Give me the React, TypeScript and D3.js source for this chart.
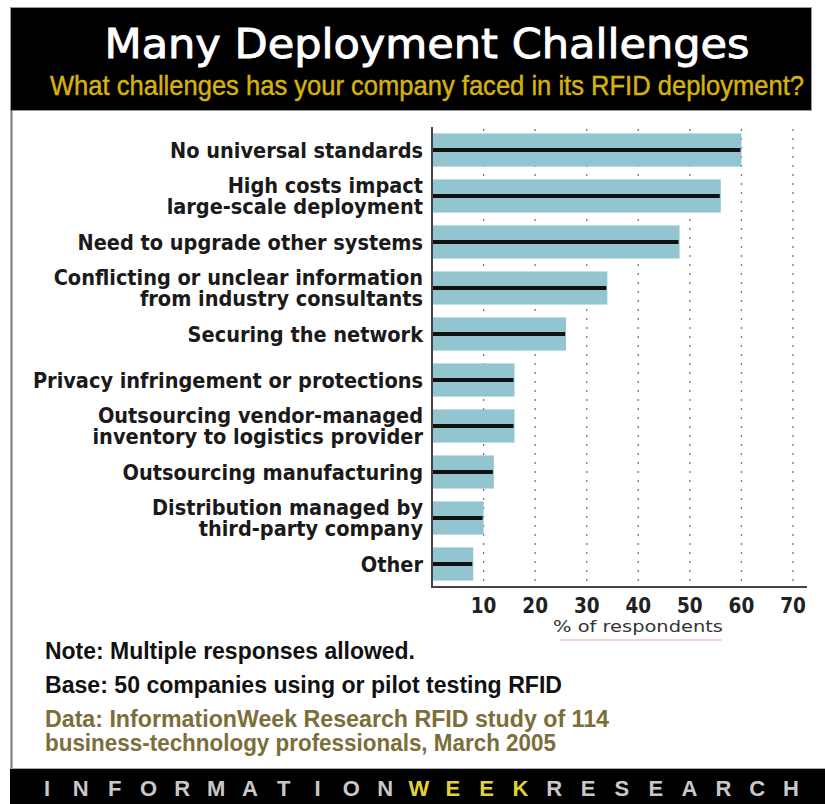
import React from "react";
import * as d3 from "d3";

const titleText = "Many Deployment Challenges";
const subtitleText = "What challenges has your company faced in its RFID deployment?";

const categoryLines: string[][] = [
  ["No universal standards"],
  ["High costs impact", "large-scale deployment"],
  ["Need to upgrade other systems"],
  ["Conflicting or unclear information", "from industry consultants"],
  ["Securing the network"],
  ["Privacy infringement or protections"],
  ["Outsourcing vendor-managed", "inventory to logistics provider"],
  ["Outsourcing manufacturing"],
  ["Distribution managed by", "third-party company"],
  ["Other"],
];

const values: number[] = [60, 56, 48, 34, 26, 16, 16, 12, 10, 8];

const xTicks: number[] = [10, 20, 30, 40, 50, 60, 70];
const xAxisTitle = "% of respondents";

const noteLines: string[] = [
  "Note: Multiple responses allowed.",
  "Base: 50 companies using or pilot testing RFID",
];
const sourceLines: string[] = [
  "Data: InformationWeek Research RFID study of 114",
  "business-technology professionals, March 2005",
];

const footerWords: { word: string; highlight: boolean }[] = [
  { word: "INFORMATION", highlight: false },
  { word: "WEEK", highlight: true },
  { word: "RESEARCH", highlight: false },
];

const W = 825;
const H = 804;

export default function App() {
  const x = d3.scaleLinear().domain([0, 70]).range([432, 793]);
  const y = d3
    .scaleBand<number>()
    .domain(values.map((_, i) => i))
    .range([127, 587])
    .paddingInner(0.28)
    .paddingOuter(0.14);

  const footerLetters: { ch: string; hl: boolean }[] = [];
  footerWords.forEach((w) =>
    w.word.split("").forEach((ch) => footerLetters.push({ ch, hl: w.highlight }))
  );
  const fx = d3
    .scalePoint<number>()
    .domain(footerLetters.map((_, i) => i))
    .range([47, 791]);

  const labelFont = "'DejaVu Sans Condensed', 'DejaVu Sans', sans-serif";
  const narrowFont = "'Liberation Sans Narrow', 'Liberation Sans', sans-serif";
  const noteWidths = [370, 517];
  const sourceWidths = [564, 511];

  return (
    <svg
      width={W}
      height={H}
      viewBox={`0 0 ${W} ${H}`}
      style={{ position: "absolute", left: 0, top: 0, background: "#fff" }}
    >
      {/* header */}
      <rect x={10.5} y={7.5} width={801} height={103} fill="#000" stroke="#999" strokeWidth={1} />
      <text
        x={427}
        y={58}
        textAnchor="middle"
        fill="#fff"
        stroke="#fff"
        strokeWidth={0.9}
        fontFamily="'DejaVu Sans', sans-serif"
        fontSize={41}
        textLength={645}
        lengthAdjust="spacingAndGlyphs"
      >
        {titleText}
      </text>
      <g transform="translate(427,95) scale(1,1.15)">
        <text
          x={0}
          y={0}
          textAnchor="middle"
          fill="#d6b20e"
          stroke="#d6b20e"
          strokeWidth={0.4}
          fontFamily={narrowFont}
          fontSize={24.5}
          textLength={754}
          lengthAdjust="spacingAndGlyphs"
        >
          {subtitleText}
        </text>
      </g>

      {/* panel left border */}
      <line x1={11.5} x2={11.5} y1={110} y2={770} stroke="#777" strokeWidth={2} />

      {/* gridlines */}
      {xTicks.map((t) => (
        <line
          key={"g" + t}
          x1={x(t)}
          x2={x(t)}
          y1={129}
          y2={586}
          stroke="#777"
          strokeWidth={1.3}
          strokeDasharray="2,7"
        />
      ))}

      {/* bars */}
      {values.map((v, i) => {
        const yy = y(i)!;
        const bw = y.bandwidth();
        return (
          <g key={"b" + i}>
            <rect x={x(0)} y={yy} width={x(v) - x(0)} height={bw} fill="#93c5d0" />
            <line
              x1={x(0)}
              x2={x(v) - 1}
              y1={yy + bw / 2}
              y2={yy + bw / 2}
              stroke="#111"
              strokeWidth={4}
            />
          </g>
        );
      })}

      {/* axes */}
      <line x1={432} x2={432} y1={127} y2={588} stroke="#444" strokeWidth={2} />
      <line x1={431} x2={807} y1={587} y2={587} stroke="#444" strokeWidth={2} />

      {/* category labels */}
      {categoryLines.map((lines, i) => {
        const cy = y(i)! + y.bandwidth() / 2;
        const n = lines.length;
        return (
          <text
            key={"c" + i}
            textAnchor="end"
            fill="#1a1a1a"
            fontFamily={labelFont}
            fontWeight="bold"
            fontSize={21.5}
          >
            {lines.map((ln, j) => (
              <tspan key={j} x={423} y={cy + 7.5 + (j - (n - 1) / 2) * 21}>
                {ln}
              </tspan>
            ))}
          </text>
        );
      })}

      {/* tick labels */}
      {xTicks.map((t) => (
        <text
          key={"t" + t}
          x={x(t)}
          y={613}
          textAnchor="middle"
          fill="#222"
          fontFamily={labelFont}
          fontWeight="bold"
          fontSize={20.5}
        >
          {t}
        </text>
      ))}
      <text
        x={638}
        y={632}
        textAnchor="middle"
        fill="#333"
        fontFamily="'DejaVu Sans', sans-serif"
        fontSize={16}
        textLength={170}
        lengthAdjust="spacingAndGlyphs"
      >
        {xAxisTitle}
      </text>
      <line x1={560} x2={722} y1={640} y2={640} stroke="#f2c4c8" strokeWidth={1.5} />

      {/* notes */}
      {noteLines.map((ln, i) => (
        <text
          key={"n" + i}
          x={45}
          y={659 + i * 34}
          fill="#111"
          fontFamily={narrowFont}
          fontWeight="bold"
          fontSize={23}
          textLength={noteWidths[i]}
          lengthAdjust="spacingAndGlyphs"
        >
          {ln}
        </text>
      ))}
      {sourceLines.map((ln, i) => (
        <text
          key={"s" + i}
          x={45}
          y={727 + i * 24}
          fill="#7b6e38"
          fontFamily={narrowFont}
          fontWeight="bold"
          fontSize={23}
          textLength={sourceWidths[i]}
          lengthAdjust="spacingAndGlyphs"
        >
          {ln}
        </text>
      ))}

      {/* footer */}
      <rect x={10} y={769} width={815} height={35} fill="#000" />
      <line x1={10} x2={825} y1={768.5} y2={768.5} stroke="#aaa" strokeWidth={1} />
      {footerLetters.map((l, i) => (
        <text
          key={"f" + i}
          x={fx(i)}
          y={796}
          textAnchor="middle"
          fill={l.hl ? "#e3d235" : "#c8c8c8"}
          fontFamily={narrowFont}
          fontWeight="bold"
          fontSize={22}
        >
          {l.ch}
        </text>
      ))}
    </svg>
  );
}
